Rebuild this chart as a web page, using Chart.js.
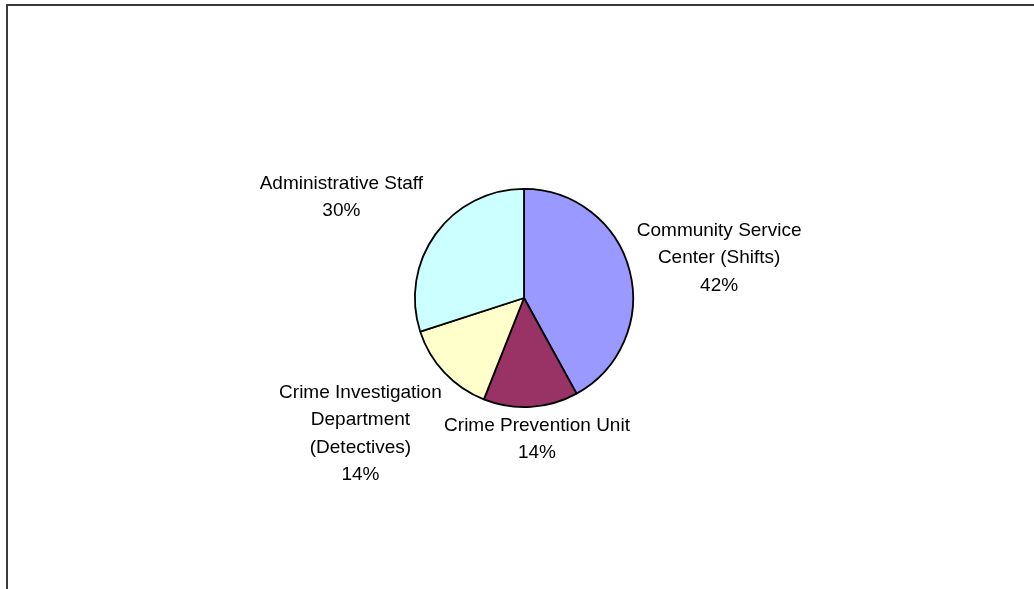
<!DOCTYPE html>
<html>
<head>
<meta charset="utf-8">
<script src="https://cdn.jsdelivr.net/npm/chart.js@4"></script>
<style>
  html, body { margin: 0; padding: 0; background: #fff; }
  #wrap { position: relative; width: 1034px; height: 589px; overflow: hidden; }
  #frame { position: absolute; left: 6px; top: 4px; right: -10px; bottom: -10px;
           border-left: 2px solid #3a3a3a; border-top: 2px solid #3a3a3a; }
  canvas { position: absolute; left: 0; top: 0; }
</style>
</head>
<body>
<div id="wrap">
  <div id="frame"></div>
  <canvas id="staffChart" width="1034" height="589"></canvas>
</div>
<script>
// staff split by unit, each name broken into the lines it is printed on
const units = [
    ['Community Service', 'Center (Shifts)'],
    ['Crime Prevention Unit'],
    ['Crime Investigation', 'Department', '(Detectives)'],
    ['Administrative Staff'],
];
const shares = [42, 14, 14, 30];
const sliceColors = ['#9999FF', '#993366', '#FFFFCC', '#CCFFFF'];

// distance from the rim to each label block
const labelGap = [10, 5, 34, 35];

const total = shares.reduce((a, b) => a + b, 0);

const outsideLabels = {
    id: 'outsideLabels',
    afterDatasetsDraw(chart) {
        const ctx = chart.ctx;
        const arcs = chart.getDatasetMeta(0).data;
        const lineHeight = 27.5;
        ctx.save();
        ctx.font = '19px "Liberation Sans", Arial, sans-serif';
        ctx.fillStyle = '#000';
        ctx.textAlign = 'center';
        ctx.textBaseline = 'middle';
        arcs.forEach((arc, i) => {
            const mid = (arc.startAngle + arc.endAngle) / 2;
            const cos = Math.cos(mid);
            const sin = Math.sin(mid);
            const lines = units[i].concat(Math.round(shares[i] / total * 100) + '%');
            const w = Math.max(...lines.map(l => ctx.measureText(l).width));
            const h = lines.length * lineHeight;
            const r = arc.outerRadius + labelGap[i];
            const cx = arc.x + cos * r + cos * w / 2;
            const cy = arc.y + sin * r + sin * h / 2;
            lines.forEach((l, k) => {
                ctx.fillText(l, cx, cy - h / 2 + lineHeight * (k + 0.5));
            });
        });
        ctx.restore();
    }
};

new Chart(document.getElementById('staffChart'), {
    type: 'pie',
    data: {
        labels: units.map(u => u.join(' ')),
        datasets: [{
            data: shares,
            backgroundColor: sliceColors,
            borderColor: '#000',
            borderWidth: 1.8,
        }]
    },
    options: {
        responsive: false,
        animation: false,
        layout: {
            padding: { top: 188, bottom: 181, left: 224, right: 210 }
        },
        plugins: {
            legend: { display: false },
            tooltip: { enabled: false },
        }
    },
    plugins: [outsideLabels]
});
</script>
</body>
</html>
